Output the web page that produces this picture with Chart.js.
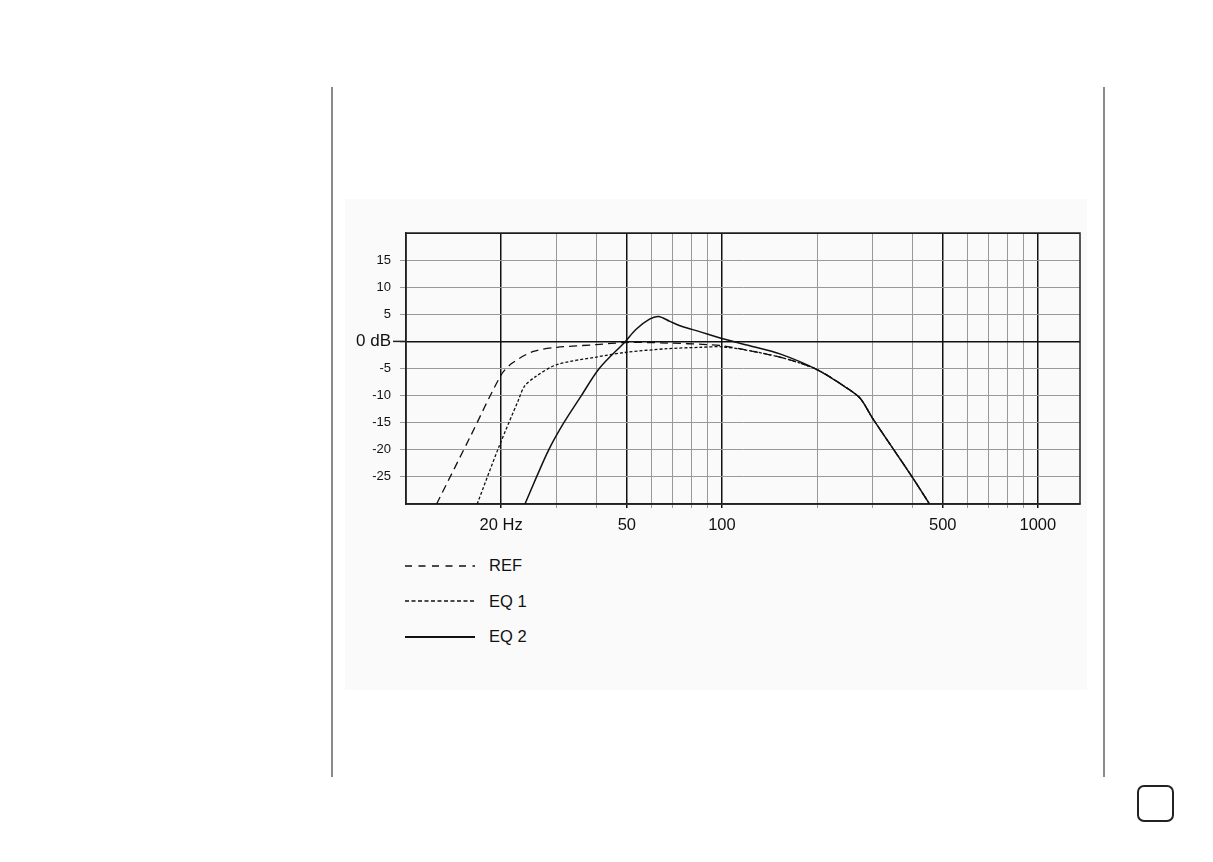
<!DOCTYPE html>
<html>
<head>
<meta charset="utf-8">
<script src="https://cdn.jsdelivr.net/npm/chart.js@4/dist/chart.umd.min.js"></script>
<style>
  body { margin: 0; background: #fff; width: 1213px; height: 862px; position: relative; overflow: hidden; font-family: "Liberation Sans", Arial, sans-serif; }
  .rule { position: absolute; top: 87px; width: 2px; height: 690px; background: #8a8a8a; }
  .panel { position: absolute; left: 345px; top: 199px; width: 742px; height: 491px; background: #fafafa; }
  #wrap { position: absolute; left: 345px; top: 198px; width: 742px; height: 342px; }
  .legend { position: absolute; left: 405px; top: 548px; }
  .legend div { height: 35.5px; display: flex; align-items: center; font-size: 16.5px; color: #111; }
  .legend svg { width: 70px; height: 6px; margin-right: 14px; }
  .box { position: absolute; left: 1137px; top: 785px; width: 33px; height: 33px; border: 2px solid #222; border-radius: 7px; }
</style>
</head>
<body>
<div class="rule" style="left:331px"></div>
<div class="rule" style="left:1103px"></div>
<div class="panel"></div>
<div id="wrap"><canvas id="eqChart"></canvas></div>
<div class="legend">
  <div><svg><line x1="0" y1="3" x2="70" y2="3" stroke="#111" stroke-width="1.6" stroke-dasharray="7 6.5"/></svg>REF</div>
  <div><svg><line x1="0" y1="3" x2="70" y2="3" stroke="#111" stroke-width="1.6" stroke-dasharray="4 2.5"/></svg>EQ 1</div>
  <div><svg><line x1="0" y1="3" x2="70" y2="3" stroke="#111" stroke-width="2"/></svg>EQ 2</div>
</div>
<div class="box"></div>

<script>
// frequency response (Hz / dB)
const refFreq = [12.5, 16, 20, 21.7, 25.3, 30, 40, 50, 67, 91, 100, 122, 157, 200, 248.7, 274, 300, 400, 454];
const refDb   = [-30, -17.5, -6.2, -4.0, -1.85, -1.1, -0.6, -0.2, -0.3, -0.6, -0.8, -1.7, -3.1, -5.2, -8.6, -10.5, -14.2, -25, -30];

const eq1Freq = [16.8, 19.7, 22.7, 23.7, 25.7, 30, 40, 50, 67, 85, 100, 122, 157, 200, 248.7, 274, 300, 400, 454];
const eq1Db   = [-30, -19.4, -10.8, -8.3, -6.5, -4.3, -2.9, -2.0, -1.35, -1.1, -1.0, -1.7, -3.1, -5.2, -8.6, -10.5, -14.2, -25, -30];

const eq2Freq = [23.8, 25.9, 28.3, 31.6, 35.9, 40.9, 49.5, 53.4, 59, 63, 68.4, 74.5, 85, 100, 122.6, 152.6, 200, 248.7, 274, 300, 400, 454];
const eq2Db   = [-30, -25, -20, -15, -10, -5, 0, 2.2, 4.1, 4.6, 3.7, 2.8, 1.8, 0.55, -0.8, -2.3, -5.2, -8.6, -10.5, -14.2, -25, -30];

const gridFreqs = [20, 30, 40, 50, 60, 70, 80, 90, 100, 200, 300, 400, 500, 600, 700, 800, 900, 1000];
const freqLabels = { 20: '20 Hz', 50: '50', 100: '100', 500: '500', 1000: '1000' };
const dbTicks = [-30, -25, -20, -15, -10, -5, 0, 5, 10, 15, 20];
const dbLabels = { 15: '15', 10: '10', 5: '5', 0: '0 dB', '-5': '-5', '-10': '-10', '-15': '-15', '-20': '-20', '-25': '-25' };

function toPoints(freqs, dbs) {
    return freqs.map((f, i) => ({ x: f, y: dbs[i] }));
}

// frame round the plot + longer tick for the 0 dB line
const framePlugin = {
    id: 'frame',
    beforeDatasetsDraw(chart) {
        const a = chart.chartArea;
        const ctx = chart.ctx;
        const y0 = chart.scales.y.getPixelForValue(0);
        ctx.save();
        ctx.strokeStyle = '#222';
        ctx.lineWidth = 1.5;
        ctx.strokeRect(a.left, a.top, a.right - a.left, a.bottom - a.top);
        ctx.beginPath();
        ctx.moveTo(a.left - 13, y0);
        ctx.lineTo(a.left, y0);
        ctx.stroke();
        ctx.restore();
    }
};

const line = (label, pts, dash, width) => ({
    label: label,
    data: pts,
    borderColor: '#111',
    borderWidth: width,
    borderDash: dash,
    pointRadius: 0,
    fill: false,
    tension: 0.3
});

new Chart(document.getElementById('eqChart'), {
    type: 'line',
    data: {
        datasets: [
            line('REF', toPoints(refFreq, refDb), [8, 5], 1.3),
            line('EQ 1', toPoints(eq1Freq, eq1Db), [3, 2], 1.3),
            line('EQ 2', toPoints(eq2Freq, eq2Db), [], 1.5)
        ]
    },
    options: {
        responsive: true,
        maintainAspectRatio: false,
        animation: false,
        layout: { padding: { top: 35, right: 7, left: 0, bottom: 0 } },
        plugins: { legend: { display: false }, tooltip: { enabled: false } },
        scales: {
            x: {
                type: 'logarithmic',
                min: 10,
                max: 1360,
                afterBuildTicks: scale => { scale.ticks = gridFreqs.map(v => ({ value: v })); },
                afterFit: scale => { scale.height = 36; },
                grid: {
                    color: c => freqLabels[c.tick.value] ? '#111' : '#999',
                    lineWidth: c => freqLabels[c.tick.value] ? 1.5 : 1,
                    tickLength: 4
                },
                border: { color: '#222', width: 1.5 },
                ticks: {
                    autoSkip: false,
                    maxRotation: 0,
                    padding: 8,
                    color: '#111',
                    font: { family: 'Liberation Sans', size: 16.5 },
                    callback: v => freqLabels[v] || ''
                }
            },
            y: {
                min: -30,
                max: 20,
                afterBuildTicks: scale => { scale.ticks = dbTicks.map(v => ({ value: v })); },
                afterFit: scale => { scale.width = 61; },
                grid: {
                    color: c => (c.tick.value === 0 || c.tick.value === 20) ? '#111' : '#999',
                    tickColor: c => (c.tick.value === 20 || c.tick.value === -30) ? 'rgba(0,0,0,0)' : '#999',
                    lineWidth: c => c.tick.value === 0 ? 1.5 : 1,
                    tickLength: 6
                },
                border: { color: '#222', width: 1.5 },
                ticks: {
                    padding: 9,
                    color: '#111',
                    font: c => ({ family: 'Liberation Sans', size: c.tick && c.tick.value === 0 ? 17 : 13 }),
                    callback: v => dbLabels[v] || ''
                }
            }
        }
    },
    plugins: [framePlugin]
});
</script>
</body>
</html>
